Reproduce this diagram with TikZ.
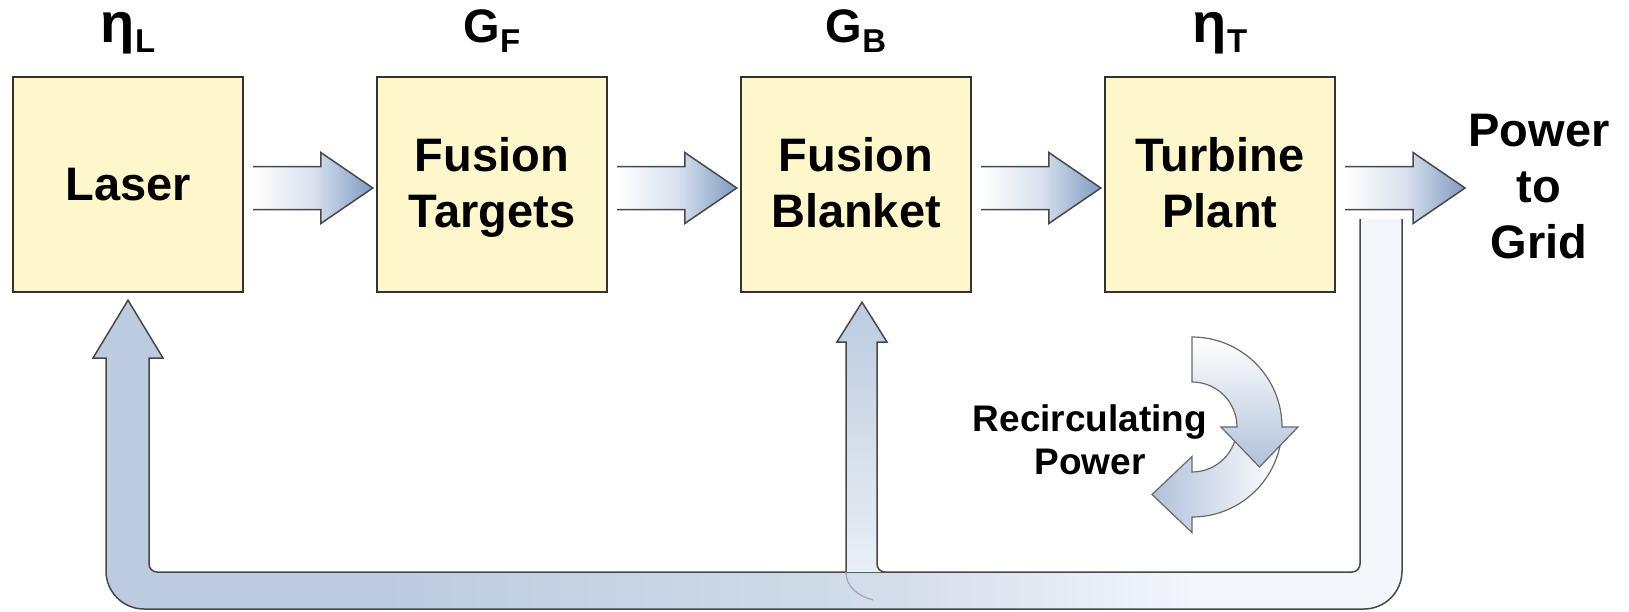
\documentclass[tikz,border=0pt]{standalone}
\usepackage{fontspec}
\setmainfont{Liberation Sans}
\usetikzlibrary{calc,positioning}

\definecolor{boxfill}{RGB}{253,247,203}
\definecolor{boxline}{RGB}{51,51,51}
\definecolor{edgegray}{RGB}{72,72,72}
\definecolor{faintgray}{RGB}{165,165,165}
\definecolor{flowtip}{RGB}{128,155,194}
\definecolor{flowmid}{RGB}{216,225,238}
\definecolor{fbblue}{RGB}{188,203,224}
\definecolor{fbmid}{RGB}{212,222,235}
\definecolor{fbpale}{RGB}{243,246,251}
\definecolor{recblue}{RGB}{176,193,217}
\definecolor{recline}{RGB}{105,105,105}

\pgfdeclarehorizontalshading{fbshade}{100bp}{color(0bp)=(fbblue); color(36bp)=(fbblue); color(56bp)=(fbmid); color(67bp)=(fbpale); color(100bp)=(fbpale)}

\newcommand\lowsub[1]{\raisebox{-5pt}{\fontsize{16.5}{16.5}\selectfont #1}}
\newcommand\bigeta{{\fontsize{28}{28}\selectfont η}}

% fat block arrow from one node to the next
\newcommand\flowarrow[2]{%
  \coordinate (fa-s) at ([xshift=4.5pt,yshift=-1.75pt]#1.east);
  \coordinate (fa-w) at ([xshift=-1.5pt]#2.west);
  \coordinate (fa-t) at (fa-w |- fa-s);
  \shade[flowshade] ([yshift=10.75pt]fa-s) -- ([xshift=-26pt,yshift=10.75pt]fa-t)
    -- ([xshift=-26pt,yshift=17.75pt]fa-t) -- (fa-t) -- ([xshift=-26pt,yshift=-17.75pt]fa-t)
    -- ([xshift=-26pt,yshift=-10.75pt]fa-t) -- ([yshift=-10.75pt]fa-s) -- cycle;
  \draw[edge] ([yshift=10.75pt]fa-s) -- ([xshift=-26pt,yshift=10.75pt]fa-t)
    -- ([xshift=-26pt,yshift=17.75pt]fa-t) -- (fa-t) -- ([xshift=-26pt,yshift=-17.75pt]fa-t)
    -- ([xshift=-26pt,yshift=-10.75pt]fa-t) -- ([yshift=-10.75pt]fa-s);
}

\begin{document}
\begin{tikzpicture}[x=0.5pt,y=0.5pt,
  box/.style={draw=boxline,line width=1.2pt,fill=boxfill,minimum width=115pt,minimum height=107.5pt,
    align=center,inner sep=0pt,font=\fontsize{23.5}{28}\selectfont\bfseries},
  gain/.style={anchor=base,inner sep=0pt,font=\fontsize{23.5}{28}\selectfont\bfseries},
  outtext/.style={align=center,inner sep=0pt,font=\fontsize{23.5}{28}\selectfont\bfseries},
  recirc/.style={align=center,inner sep=0pt,font=\fontsize{18.5}{21.5}\selectfont\bfseries},
  edge/.style={draw=edgegray,line width=0.75pt,line join=miter},
  faint/.style={draw=faintgray,line width=0.6pt},
  flowshade/.style={left color=white,right color=flowtip,middle color=flowmid},
  recarrow/.style={draw=recline,line width=0.6pt}]
\useasboundingbox (0,0) rectangle (1629,-611);

% blocks
\node[box] (laser) at (128,-184.5) {Laser};
\node[box] (targets) at (492,-184.5) {\rule{0pt}{20pt}Fusion\\Targets};
\node[box] (blanket) at (856,-184.5) {\rule{0pt}{20pt}Fusion\\Blanket\vphantom{g}};
\node[box] (turbine) at (1220,-184.5) {\rule{0pt}{20pt}Turbine\\Plant\vphantom{g}};
\node[outtext] (grid) at (1539,-187) {Power\\to\\Grid};

% gains
\node[gain] (etaL) at ([yshift=16.5pt]laser.north) {\bigeta\lowsub{L}};
\node[gain] (gainF) at ([yshift=16.5pt]targets.north) {G\lowsub{F}};
\node[gain] (gainB) at ([yshift=16.5pt]blanket.north) {G\lowsub{B}};
\node[gain] (etaT) at ([yshift=16.5pt]turbine.north) {\bigeta\lowsub{T}};

% forward flow
\flowarrow{laser}{targets}
\flowarrow{targets}{blanket}
\flowarrow{blanket}{turbine}
\flowarrow{turbine}{grid}

% recirculated power back to laser and blanket
\coordinate (fbL) at ([yshift=-3.5pt]laser.south);
\coordinate (fbB) at ([xshift=3pt,yshift=-4.5pt]blanket.south);
\shade[shading=fbshade] (1402,-219) -- (1402,-400) [rounded corners=19pt] -- (1402,-609) -- (106,-609)
  -- (106,-450) [sharp corners] -- (106,-358) -- (93,-358) -- (fbL) -- (163,-358) -- (149,-358)
  -- (149,-450) [rounded corners=4pt] -- (149,-572) -- (1360,-572) -- (1360,-400) [sharp corners]
  -- (1360,-219) -- cycle;
\draw[edge] (1402,-219) -- (1402,-400) [rounded corners=19pt] -- (1402,-609) -- (106,-609)
  -- (106,-450) [sharp corners] -- (106,-358) -- (93,-358) -- (fbL) -- (163,-358) -- (149,-358)
  -- (149,-450) [rounded corners=4pt] -- (149,-572) -- (1360,-572) -- (1360,-400) [sharp corners]
  -- (1360,-219);
\shade[top color=fbblue,bottom color=fbpale!70!fbmid] (846,-572) -- (846,-342) -- (837,-342) -- (fbB)
  -- (887,-342) -- (877,-342) -- (877,-564) to[out=-90,in=180] (885,-572) -- cycle;
\draw[edge] (846,-572) -- (846,-342) -- (837,-342) -- (fbB) -- (887,-342) -- (877,-342)
  -- (877,-564) to[out=-90,in=180] (885,-572);
\draw[faint] (846,-572) to[out=-90,in=165] (873,-600);

% recirculating symbol
\shadedraw[recarrow,left color=recblue,right color=white] (1282,-427) arc[start angle=0,end angle=-90,radius=90]
  -- (1192,-532.5) -- (1152,-494.5) -- (1192,-456.5) -- (1192,-472)
  arc[start angle=-90,end angle=0,radius=45] -- cycle;
\shadedraw[recarrow,top color=white,bottom color=recblue] (1192,-337) arc[start angle=90,end angle=0,radius=90]
  -- (1298,-427) -- (1259.5,-467) -- (1221,-427) -- (1237,-427)
  arc[start angle=0,end angle=90,radius=45] -- cycle;
\node[recirc] (recpow) at (1090,-440) {Recirculating\\Power};
\end{tikzpicture}
\end{document}
